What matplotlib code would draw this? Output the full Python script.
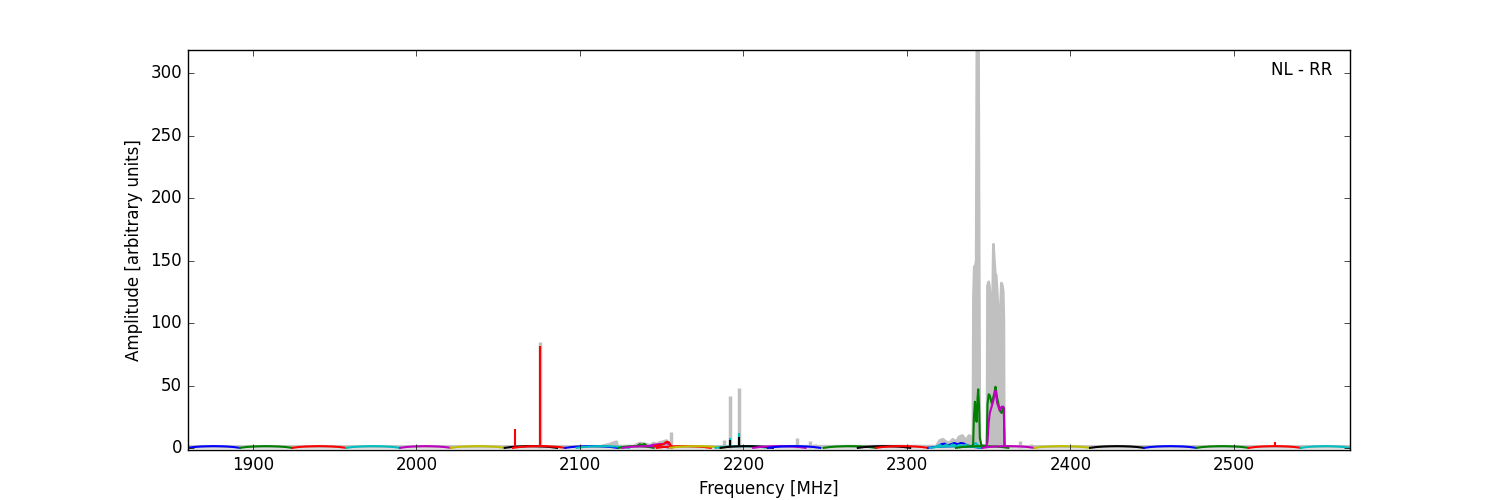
import numpy as np
import matplotlib.pyplot as plt

plt.style.use('classic')

# spectral windows (MHz) and their colours, in drawing order
win_lo = [1860, 1892, 1924, 1957, 1990, 2021, 2054, 2059, 2091, 2098, 2124, 2126, 2147, 2155,
          2183, 2186, 2206, 2215, 2249, 2270, 2281, 2313, 2314, 2330, 2346, 2378, 2412, 2445,
          2477, 2509, 2541]
win_hi = [1892, 1924, 1957, 1990, 2021, 2054, 2086, 2091, 2123, 2130, 2145, 2156, 2180, 2187,
          2215, 2218, 2238, 2247, 2281, 2302, 2313, 2345, 2346, 2362, 2378, 2412, 2445, 2477,
          2509, 2541, 2571]
win_col = ['b', 'g', 'r', 'c', 'm', 'y', 'k', 'r', 'b', 'c', 'g', 'm', 'r', 'y',
           'c', 'k', 'm', 'b', 'g', 'k', 'r', 'b', 'c', 'g', 'm', 'y', 'k', 'b',
           'g', 'r', 'c']

# typical bandpass of a quiet window (samples evenly across the window)
bandpass = [0.1, 0.8, 1.2, 1.4, 1.5, 1.4, 1.2, 0.8, 0.1]

# narrow RFI spikes seen in single windows
spike_win = [6, 7, 7, 14, 14, 15, 15, 27, 29]
spike_f = [2067, 2060, 2075.5, 2192, 2197, 2192, 2197, 2460, 2525]
spike_a = [2.5, 15, 82, 8, 12, 6.5, 9, 1.8, 4.5]

# broader RFI in single windows
g1_f = [2135, 2136.5, 2138, 2139.5, 2141]
g1_a = [1.5, 3.0, 2.5, 3.2, 1.5]
m1_f = [2142, 2145, 2148, 2151, 2153, 2155, 2156]
m1_a = [1.5, 2.5, 3.0, 3.2, 4.0, 3.0, 1.5]
r1_f = [2146, 2149, 2151, 2153, 2154.5, 2155.5]
r1_a = [1.5, 2.5, 3.0, 5.0, 4.5, 1.5]
b1_f = [2319, 2321, 2323, 2325, 2327, 2329, 2331, 2333, 2335, 2337, 2339]
b1_a = [1.5, 3.0, 3.5, 2.0, 3.0, 4.0, 3.0, 4.0, 3.5, 2.0, 1.5]
c1_f = [2318, 2320, 2322, 2324, 2326, 2328, 2330, 2332, 2334, 2336, 2338, 2340, 2342, 2344, 2346]
c1_a = [1.0, 2.5, 1.2, 2.5, 1.5, 2.8, 1.2, 2.5, 1.3, 2.8, 1.0, 1.5, 4.0, 1.5, 0.5]
g2_f = [2339.8, 2340.5, 2341.0, 2341.6, 2342.2, 2342.6, 2343.2, 2343.6, 2344.1, 2344.6, 2345.6,
        2348.8, 2349.3, 2350.0, 2350.7, 2351.8, 2352.7, 2353.5, 2354.2, 2355.2, 2356.0, 2356.8,
        2357.9, 2358.9, 2359.3, 2359.7]
g2_a = [1.5, 3, 25, 37, 30, 21, 40, 47, 35, 8, 2,
        1.5, 35, 43, 42, 36, 40, 44, 49, 40, 35, 30,
        28, 33, 30, 1.5]
m2_f = [2348.5, 2349.3, 2350.0, 2350.7, 2351.8, 2352.7, 2353.5, 2354.2, 2355.2, 2356.0, 2356.8,
        2357.9, 2358.9, 2359.3, 2359.7]
m2_a = [1.5, 5, 20, 28, 33, 37, 42, 46, 36, 33, 30, 33, 33, 32, 1.5]
rfi_win = [10, 11, 12, 21, 22, 23, 24]
rfi_f = [g1_f, m1_f, r1_f, b1_f, c1_f, g2_f, m2_f]
rfi_a = [g1_a, m1_a, r1_a, b1_a, c1_a, g2_a, m2_a]

# full-resolution spectrum (grey)
gray_f = [1860, 2112, 2118, 2121, 2122.5, 2123, 2133, 2135, 2137, 2139, 2141, 2143, 2145, 2147,
          2149, 2151, 2153, 2155, 2156.5, 2318, 2320, 2322, 2324, 2326, 2328, 2330, 2332, 2334,
          2336, 2338, 2339.5, 2339.8, 2340.4, 2340.7, 2341.2, 2341.9, 2342.4, 2342.8, 2343.8,
          2344.2, 2344.6, 2345.0, 2349.0, 2349.3, 2350.0, 2350.6, 2351.3, 2351.9, 2352.4, 2352.9,
          2353.5, 2354.0, 2354.6, 2355.2, 2355.9, 2356.5, 2357.2, 2357.8, 2358.4, 2358.9, 2359.3,
          2359.5, 2360.5, 2571]
gray_a = [1.2, 1.2, 3.0, 4.5, 5.0, 1.5, 1.5, 3.0, 4.0, 3.5, 3.0, 2.0, 4.0, 3.0,
          4.5, 5.0, 6.0, 3.0, 1.2, 1.5, 6.0, 7.0, 5.0, 4.0, 7.0, 5.0, 9.0, 10.0,
          6.0, 10.0, 9.0, 1.0, 10, 120, 145, 146, 150, 318.5, 318.5,
          150, 10, 2, 2, 130, 133, 128, 113, 120, 115, 163,
          150, 140, 138, 125, 108, 112, 110, 132, 130, 125, 100,
          3, 1.2, 1.2]
gray_spike_f = [2075.5, 2156, 2188, 2192, 2197, 2233, 2241, 2243.5, 2369, 2376]
gray_spike_a = [85, 13, 6.5, 42, 48, 8, 6, 3.5, 6, 3]

fig = plt.figure(figsize=(15, 5), dpi=100)
ax = fig.add_subplot(111)

# grey spectrum underneath
ax.fill_between(gray_f, 0, gray_a, color='silver', lw=0)
ax.plot(gray_f, gray_a, color='silver', lw=2)
ax.vlines(gray_spike_f, 0, gray_spike_a, colors='silver', lw=2.5)

# per-window spectra
for i in range(len(win_lo)):
    x = np.linspace(win_lo[i], win_hi[i], len(bandpass))
    ax.plot(x, bandpass, color=win_col[i], lw=1.5)
    for f, a, w in zip(spike_f, spike_a, spike_win):
        if w == i:
            ax.vlines(f, 1.2, a, colors=win_col[i], lw=1.5)
    for f, a, w in zip(rfi_f, rfi_a, rfi_win):
        if w == i:
            ax.plot(f, a, color=win_col[i], lw=1.5)

ax.text(0.985, 0.95, 'NL - RR', transform=ax.transAxes, ha='right', va='center', fontsize=12)

ax.set_xlim(1860, 2571)
ax.set_ylim(-1.6, 318.5)
ax.set_xticks([1900, 2000, 2100, 2200, 2300, 2400, 2500])
ax.set_yticks([0, 50, 100, 150, 200, 250, 300])
ax.set_xlabel('Frequency [MHz]')
ax.set_ylabel('Amplitude [arbitrary units]')

fig.savefig('out.png', dpi=100, facecolor='w')
